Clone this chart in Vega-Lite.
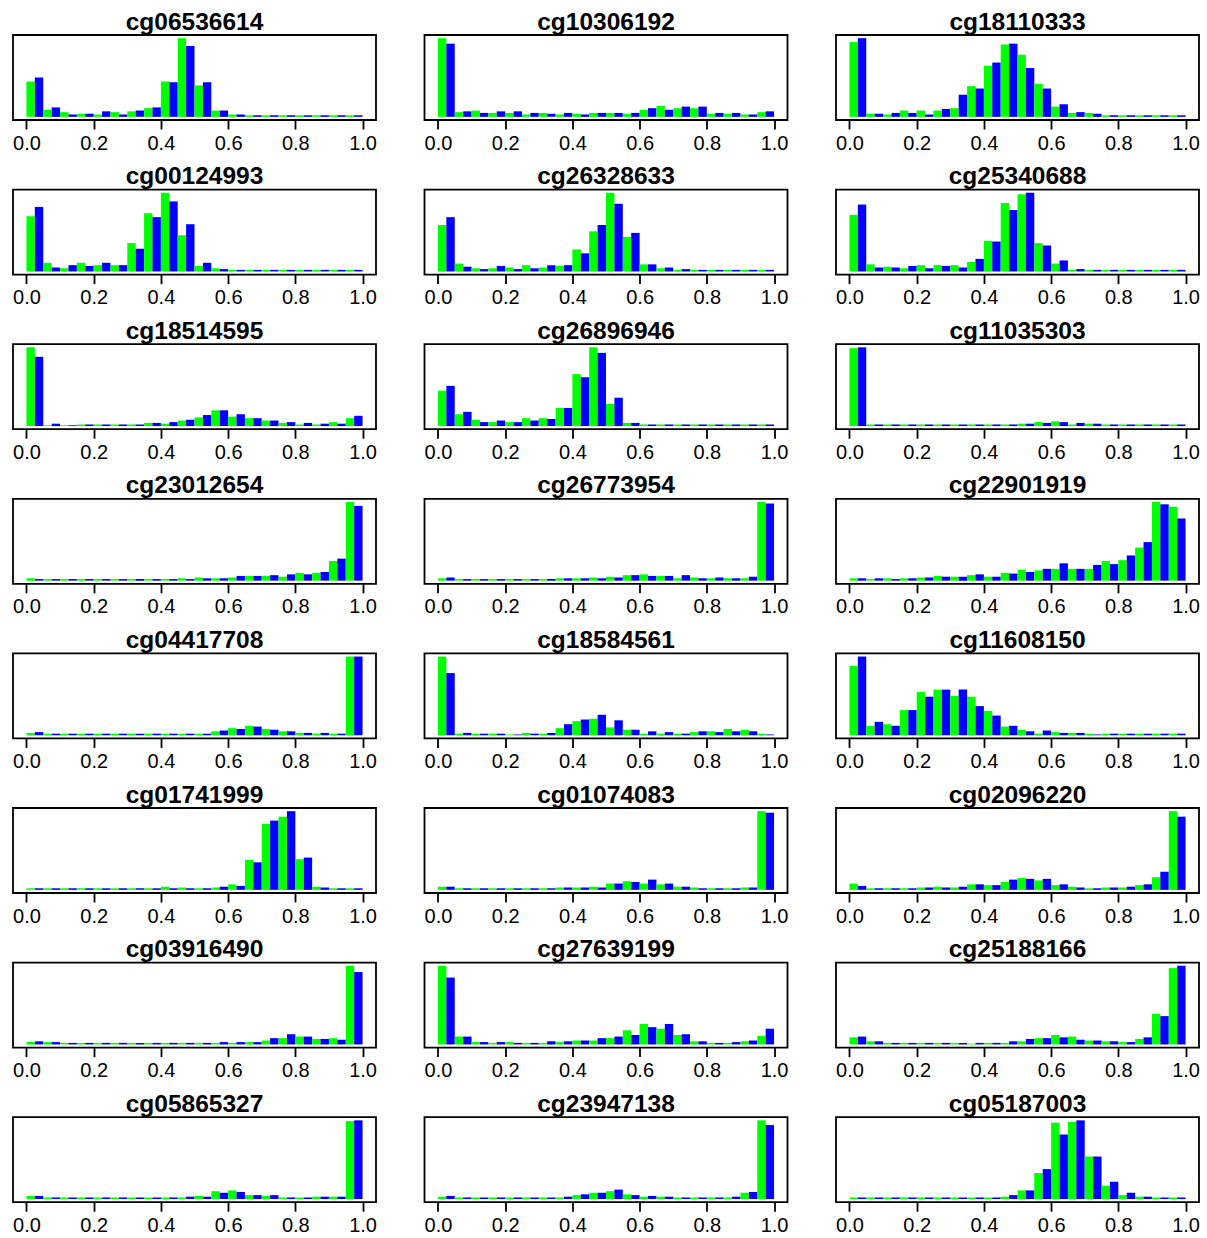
{
"$schema": "https://vega.github.io/schema/vega-lite/v6.json",
"background": "white",
"padding": {"left": 11, "top": 8, "right": 5, "bottom": 0},
"data": {"values": [
{"probe":"cg06536614","bin":0,"green":0.45,"blue":0.5},{"probe":"cg06536614","bin":0.05,"green":0.09,"blue":0.12},{"probe":"cg06536614","bin":0.1,"green":0.06,"blue":0.03},{"probe":"cg06536614","bin":0.15,"green":0.04,"blue":0.04},{"probe":"cg06536614","bin":0.2,"green":0.03,"blue":0.07},{"probe":"cg06536614","bin":0.25,"green":0.06,"blue":0.03},{"probe":"cg06536614","bin":0.3,"green":0.07,"blue":0.08},{"probe":"cg06536614","bin":0.35,"green":0.11,"blue":0.12},{"probe":"cg06536614","bin":0.4,"green":0.45,"blue":0.44},{"probe":"cg06536614","bin":0.45,"green":1.0,"blue":0.9},{"probe":"cg06536614","bin":0.5,"green":0.4,"blue":0.44},{"probe":"cg06536614","bin":0.55,"green":0.08,"blue":0.08},{"probe":"cg06536614","bin":0.6,"green":0.03,"blue":0.03},{"probe":"cg06536614","bin":0.65,"green":0.02,"blue":0.02},{"probe":"cg06536614","bin":0.7,"green":0.02,"blue":0.02},{"probe":"cg06536614","bin":0.75,"green":0.02,"blue":0.02},{"probe":"cg06536614","bin":0.8,"green":0.02,"blue":0.02},{"probe":"cg06536614","bin":0.85,"green":0.02,"blue":0.02},{"probe":"cg06536614","bin":0.9,"green":0.02,"blue":0.02},{"probe":"cg06536614","bin":0.95,"green":0.02,"blue":0.02},
{"probe":"cg10306192","bin":0,"green":1.0,"blue":0.93},{"probe":"cg10306192","bin":0.05,"green":0.06,"blue":0.07},{"probe":"cg10306192","bin":0.1,"green":0.08,"blue":0.05},{"probe":"cg10306192","bin":0.15,"green":0.05,"blue":0.07},{"probe":"cg10306192","bin":0.2,"green":0.05,"blue":0.07},{"probe":"cg10306192","bin":0.25,"green":0.03,"blue":0.05},{"probe":"cg10306192","bin":0.3,"green":0.05,"blue":0.04},{"probe":"cg10306192","bin":0.35,"green":0.03,"blue":0.05},{"probe":"cg10306192","bin":0.4,"green":0.04,"blue":0.03},{"probe":"cg10306192","bin":0.45,"green":0.05,"blue":0.05},{"probe":"cg10306192","bin":0.5,"green":0.05,"blue":0.05},{"probe":"cg10306192","bin":0.55,"green":0.04,"blue":0.05},{"probe":"cg10306192","bin":0.6,"green":0.09,"blue":0.11},{"probe":"cg10306192","bin":0.65,"green":0.14,"blue":0.09},{"probe":"cg10306192","bin":0.7,"green":0.11,"blue":0.13},{"probe":"cg10306192","bin":0.75,"green":0.11,"blue":0.13},{"probe":"cg10306192","bin":0.8,"green":0.04,"blue":0.05},{"probe":"cg10306192","bin":0.85,"green":0.04,"blue":0.05},{"probe":"cg10306192","bin":0.9,"green":0.03,"blue":0.03},{"probe":"cg10306192","bin":0.95,"green":0.06,"blue":0.07},
{"probe":"cg18110333","bin":0,"green":0.95,"blue":1.0},{"probe":"cg18110333","bin":0.05,"green":0.04,"blue":0.04},{"probe":"cg18110333","bin":0.1,"green":0.03,"blue":0.05},{"probe":"cg18110333","bin":0.15,"green":0.08,"blue":0.05},{"probe":"cg18110333","bin":0.2,"green":0.08,"blue":0.03},{"probe":"cg18110333","bin":0.25,"green":0.08,"blue":0.1},{"probe":"cg18110333","bin":0.3,"green":0.11,"blue":0.28},{"probe":"cg18110333","bin":0.35,"green":0.39,"blue":0.36},{"probe":"cg18110333","bin":0.4,"green":0.65,"blue":0.69},{"probe":"cg18110333","bin":0.45,"green":0.92,"blue":0.93},{"probe":"cg18110333","bin":0.5,"green":0.79,"blue":0.62},{"probe":"cg18110333","bin":0.55,"green":0.42,"blue":0.36},{"probe":"cg18110333","bin":0.6,"green":0.13,"blue":0.16},{"probe":"cg18110333","bin":0.65,"green":0.05,"blue":0.06},{"probe":"cg18110333","bin":0.7,"green":0.05,"blue":0.04},{"probe":"cg18110333","bin":0.75,"green":0.02,"blue":0.02},{"probe":"cg18110333","bin":0.8,"green":0.02,"blue":0.02},{"probe":"cg18110333","bin":0.85,"green":0.02,"blue":0.02},{"probe":"cg18110333","bin":0.9,"green":0.02,"blue":0.02},{"probe":"cg18110333","bin":0.95,"green":0.02,"blue":0.02},
{"probe":"cg00124993","bin":0,"green":0.7,"blue":0.82},{"probe":"cg00124993","bin":0.05,"green":0.11,"blue":0.05},{"probe":"cg00124993","bin":0.1,"green":0.04,"blue":0.08},{"probe":"cg00124993","bin":0.15,"green":0.11,"blue":0.07},{"probe":"cg00124993","bin":0.2,"green":0.08,"blue":0.11},{"probe":"cg00124993","bin":0.25,"green":0.08,"blue":0.08},{"probe":"cg00124993","bin":0.3,"green":0.36,"blue":0.29},{"probe":"cg00124993","bin":0.35,"green":0.74,"blue":0.69},{"probe":"cg00124993","bin":0.4,"green":1.0,"blue":0.89},{"probe":"cg00124993","bin":0.45,"green":0.46,"blue":0.6},{"probe":"cg00124993","bin":0.5,"green":0.07,"blue":0.11},{"probe":"cg00124993","bin":0.55,"green":0.04,"blue":0.03},{"probe":"cg00124993","bin":0.6,"green":0.02,"blue":0.02},{"probe":"cg00124993","bin":0.65,"green":0.02,"blue":0.02},{"probe":"cg00124993","bin":0.7,"green":0.02,"blue":0.02},{"probe":"cg00124993","bin":0.75,"green":0.02,"blue":0.02},{"probe":"cg00124993","bin":0.8,"green":0.02,"blue":0.02},{"probe":"cg00124993","bin":0.85,"green":0.02,"blue":0.02},{"probe":"cg00124993","bin":0.9,"green":0.02,"blue":0.02},{"probe":"cg00124993","bin":0.95,"green":0.02,"blue":0.02},
{"probe":"cg26328633","bin":0,"green":0.59,"blue":0.69},{"probe":"cg26328633","bin":0.05,"green":0.1,"blue":0.06},{"probe":"cg26328633","bin":0.1,"green":0.04,"blue":0.03},{"probe":"cg26328633","bin":0.15,"green":0.04,"blue":0.07},{"probe":"cg26328633","bin":0.2,"green":0.05,"blue":0.03},{"probe":"cg26328633","bin":0.25,"green":0.08,"blue":0.04},{"probe":"cg26328633","bin":0.3,"green":0.05,"blue":0.08},{"probe":"cg26328633","bin":0.35,"green":0.07,"blue":0.08},{"probe":"cg26328633","bin":0.4,"green":0.28,"blue":0.23},{"probe":"cg26328633","bin":0.45,"green":0.51,"blue":0.59},{"probe":"cg26328633","bin":0.5,"green":1.0,"blue":0.86},{"probe":"cg26328633","bin":0.55,"green":0.44,"blue":0.49},{"probe":"cg26328633","bin":0.6,"green":0.09,"blue":0.09},{"probe":"cg26328633","bin":0.65,"green":0.04,"blue":0.05},{"probe":"cg26328633","bin":0.7,"green":0.02,"blue":0.03},{"probe":"cg26328633","bin":0.75,"green":0.02,"blue":0.02},{"probe":"cg26328633","bin":0.8,"green":0.02,"blue":0.02},{"probe":"cg26328633","bin":0.85,"green":0.02,"blue":0.02},{"probe":"cg26328633","bin":0.9,"green":0.02,"blue":0.02},{"probe":"cg26328633","bin":0.95,"green":0.02,"blue":0.02},
{"probe":"cg25340688","bin":0,"green":0.72,"blue":0.85},{"probe":"cg25340688","bin":0.05,"green":0.09,"blue":0.05},{"probe":"cg25340688","bin":0.1,"green":0.06,"blue":0.05},{"probe":"cg25340688","bin":0.15,"green":0.04,"blue":0.07},{"probe":"cg25340688","bin":0.2,"green":0.08,"blue":0.04},{"probe":"cg25340688","bin":0.25,"green":0.08,"blue":0.07},{"probe":"cg25340688","bin":0.3,"green":0.08,"blue":0.05},{"probe":"cg25340688","bin":0.35,"green":0.12,"blue":0.16},{"probe":"cg25340688","bin":0.4,"green":0.39,"blue":0.38},{"probe":"cg25340688","bin":0.45,"green":0.87,"blue":0.78},{"probe":"cg25340688","bin":0.5,"green":0.98,"blue":1.0},{"probe":"cg25340688","bin":0.55,"green":0.36,"blue":0.33},{"probe":"cg25340688","bin":0.6,"green":0.1,"blue":0.14},{"probe":"cg25340688","bin":0.65,"green":0.02,"blue":0.03},{"probe":"cg25340688","bin":0.7,"green":0.02,"blue":0.02},{"probe":"cg25340688","bin":0.75,"green":0.02,"blue":0.02},{"probe":"cg25340688","bin":0.8,"green":0.02,"blue":0.02},{"probe":"cg25340688","bin":0.85,"green":0.02,"blue":0.02},{"probe":"cg25340688","bin":0.9,"green":0.02,"blue":0.02},{"probe":"cg25340688","bin":0.95,"green":0.02,"blue":0.02},
{"probe":"cg18514595","bin":0,"green":1.0,"blue":0.88},{"probe":"cg18514595","bin":0.05,"green":0.01,"blue":0.03},{"probe":"cg18514595","bin":0.1,"green":0.01,"blue":0.01},{"probe":"cg18514595","bin":0.15,"green":0.02,"blue":0.02},{"probe":"cg18514595","bin":0.2,"green":0.02,"blue":0.02},{"probe":"cg18514595","bin":0.25,"green":0.02,"blue":0.02},{"probe":"cg18514595","bin":0.3,"green":0.02,"blue":0.02},{"probe":"cg18514595","bin":0.35,"green":0.04,"blue":0.04},{"probe":"cg18514595","bin":0.4,"green":0.03,"blue":0.05},{"probe":"cg18514595","bin":0.45,"green":0.07,"blue":0.08},{"probe":"cg18514595","bin":0.5,"green":0.11,"blue":0.14},{"probe":"cg18514595","bin":0.55,"green":0.2,"blue":0.2},{"probe":"cg18514595","bin":0.6,"green":0.12,"blue":0.15},{"probe":"cg18514595","bin":0.65,"green":0.1,"blue":0.1},{"probe":"cg18514595","bin":0.7,"green":0.07,"blue":0.07},{"probe":"cg18514595","bin":0.75,"green":0.04,"blue":0.05},{"probe":"cg18514595","bin":0.8,"green":0.02,"blue":0.04},{"probe":"cg18514595","bin":0.85,"green":0.02,"blue":0.03},{"probe":"cg18514595","bin":0.9,"green":0.05,"blue":0.03},{"probe":"cg18514595","bin":0.95,"green":0.1,"blue":0.13},
{"probe":"cg26896946","bin":0,"green":0.45,"blue":0.51},{"probe":"cg26896946","bin":0.05,"green":0.15,"blue":0.18},{"probe":"cg26896946","bin":0.1,"green":0.08,"blue":0.05},{"probe":"cg26896946","bin":0.15,"green":0.05,"blue":0.07},{"probe":"cg26896946","bin":0.2,"green":0.05,"blue":0.05},{"probe":"cg26896946","bin":0.25,"green":0.1,"blue":0.07},{"probe":"cg26896946","bin":0.3,"green":0.1,"blue":0.09},{"probe":"cg26896946","bin":0.35,"green":0.23,"blue":0.23},{"probe":"cg26896946","bin":0.4,"green":0.66,"blue":0.62},{"probe":"cg26896946","bin":0.45,"green":1.0,"blue":0.93},{"probe":"cg26896946","bin":0.5,"green":0.28,"blue":0.36},{"probe":"cg26896946","bin":0.55,"green":0.04,"blue":0.04},{"probe":"cg26896946","bin":0.6,"green":0.02,"blue":0.02},{"probe":"cg26896946","bin":0.65,"green":0.02,"blue":0.02},{"probe":"cg26896946","bin":0.7,"green":0.02,"blue":0.02},{"probe":"cg26896946","bin":0.75,"green":0.02,"blue":0.02},{"probe":"cg26896946","bin":0.8,"green":0.02,"blue":0.02},{"probe":"cg26896946","bin":0.85,"green":0.02,"blue":0.02},{"probe":"cg26896946","bin":0.9,"green":0.02,"blue":0.02},{"probe":"cg26896946","bin":0.95,"green":0.02,"blue":0.02},
{"probe":"cg11035303","bin":0,"green":0.99,"blue":1.0},{"probe":"cg11035303","bin":0.05,"green":0.02,"blue":0.02},{"probe":"cg11035303","bin":0.1,"green":0.02,"blue":0.02},{"probe":"cg11035303","bin":0.15,"green":0.02,"blue":0.02},{"probe":"cg11035303","bin":0.2,"green":0.02,"blue":0.02},{"probe":"cg11035303","bin":0.25,"green":0.02,"blue":0.02},{"probe":"cg11035303","bin":0.3,"green":0.02,"blue":0.02},{"probe":"cg11035303","bin":0.35,"green":0.02,"blue":0.02},{"probe":"cg11035303","bin":0.4,"green":0.02,"blue":0.02},{"probe":"cg11035303","bin":0.45,"green":0.02,"blue":0.02},{"probe":"cg11035303","bin":0.5,"green":0.03,"blue":0.03},{"probe":"cg11035303","bin":0.55,"green":0.05,"blue":0.04},{"probe":"cg11035303","bin":0.6,"green":0.06,"blue":0.05},{"probe":"cg11035303","bin":0.65,"green":0.02,"blue":0.04},{"probe":"cg11035303","bin":0.7,"green":0.03,"blue":0.03},{"probe":"cg11035303","bin":0.75,"green":0.02,"blue":0.02},{"probe":"cg11035303","bin":0.8,"green":0.02,"blue":0.02},{"probe":"cg11035303","bin":0.85,"green":0.02,"blue":0.02},{"probe":"cg11035303","bin":0.9,"green":0.02,"blue":0.02},{"probe":"cg11035303","bin":0.95,"green":0.02,"blue":0.02},
{"probe":"cg23012654","bin":0,"green":0.03,"blue":0.02},{"probe":"cg23012654","bin":0.05,"green":0.02,"blue":0.02},{"probe":"cg23012654","bin":0.1,"green":0.02,"blue":0.02},{"probe":"cg23012654","bin":0.15,"green":0.02,"blue":0.02},{"probe":"cg23012654","bin":0.2,"green":0.02,"blue":0.02},{"probe":"cg23012654","bin":0.25,"green":0.02,"blue":0.02},{"probe":"cg23012654","bin":0.3,"green":0.02,"blue":0.02},{"probe":"cg23012654","bin":0.35,"green":0.02,"blue":0.02},{"probe":"cg23012654","bin":0.4,"green":0.02,"blue":0.02},{"probe":"cg23012654","bin":0.45,"green":0.03,"blue":0.02},{"probe":"cg23012654","bin":0.5,"green":0.04,"blue":0.03},{"probe":"cg23012654","bin":0.55,"green":0.03,"blue":0.03},{"probe":"cg23012654","bin":0.6,"green":0.04,"blue":0.06},{"probe":"cg23012654","bin":0.65,"green":0.06,"blue":0.06},{"probe":"cg23012654","bin":0.7,"green":0.06,"blue":0.07},{"probe":"cg23012654","bin":0.75,"green":0.05,"blue":0.08},{"probe":"cg23012654","bin":0.8,"green":0.1,"blue":0.08},{"probe":"cg23012654","bin":0.85,"green":0.1,"blue":0.11},{"probe":"cg23012654","bin":0.9,"green":0.25,"blue":0.28},{"probe":"cg23012654","bin":0.95,"green":1.0,"blue":0.95},
{"probe":"cg26773954","bin":0,"green":0.03,"blue":0.04},{"probe":"cg26773954","bin":0.05,"green":0.02,"blue":0.02},{"probe":"cg26773954","bin":0.1,"green":0.02,"blue":0.02},{"probe":"cg26773954","bin":0.15,"green":0.02,"blue":0.02},{"probe":"cg26773954","bin":0.2,"green":0.02,"blue":0.02},{"probe":"cg26773954","bin":0.25,"green":0.02,"blue":0.02},{"probe":"cg26773954","bin":0.3,"green":0.02,"blue":0.02},{"probe":"cg26773954","bin":0.35,"green":0.03,"blue":0.03},{"probe":"cg26773954","bin":0.4,"green":0.03,"blue":0.03},{"probe":"cg26773954","bin":0.45,"green":0.04,"blue":0.03},{"probe":"cg26773954","bin":0.5,"green":0.05,"blue":0.04},{"probe":"cg26773954","bin":0.55,"green":0.07,"blue":0.07},{"probe":"cg26773954","bin":0.6,"green":0.08,"blue":0.06},{"probe":"cg26773954","bin":0.65,"green":0.06,"blue":0.06},{"probe":"cg26773954","bin":0.7,"green":0.03,"blue":0.07},{"probe":"cg26773954","bin":0.75,"green":0.04,"blue":0.03},{"probe":"cg26773954","bin":0.8,"green":0.03,"blue":0.04},{"probe":"cg26773954","bin":0.85,"green":0.03,"blue":0.03},{"probe":"cg26773954","bin":0.9,"green":0.03,"blue":0.05},{"probe":"cg26773954","bin":0.95,"green":1.0,"blue":0.98},
{"probe":"cg22901919","bin":0,"green":0.03,"blue":0.03},{"probe":"cg22901919","bin":0.05,"green":0.02,"blue":0.03},{"probe":"cg22901919","bin":0.1,"green":0.03,"blue":0.02},{"probe":"cg22901919","bin":0.15,"green":0.03,"blue":0.03},{"probe":"cg22901919","bin":0.2,"green":0.04,"blue":0.04},{"probe":"cg22901919","bin":0.25,"green":0.06,"blue":0.05},{"probe":"cg22901919","bin":0.3,"green":0.05,"blue":0.05},{"probe":"cg22901919","bin":0.35,"green":0.07,"blue":0.08},{"probe":"cg22901919","bin":0.4,"green":0.05,"blue":0.05},{"probe":"cg22901919","bin":0.45,"green":0.1,"blue":0.09},{"probe":"cg22901919","bin":0.5,"green":0.14,"blue":0.11},{"probe":"cg22901919","bin":0.55,"green":0.13,"blue":0.15},{"probe":"cg22901919","bin":0.6,"green":0.15,"blue":0.22},{"probe":"cg22901919","bin":0.65,"green":0.15,"blue":0.15},{"probe":"cg22901919","bin":0.7,"green":0.15,"blue":0.2},{"probe":"cg22901919","bin":0.75,"green":0.25,"blue":0.21},{"probe":"cg22901919","bin":0.8,"green":0.26,"blue":0.32},{"probe":"cg22901919","bin":0.85,"green":0.42,"blue":0.49},{"probe":"cg22901919","bin":0.9,"green":1.0,"blue":0.97},{"probe":"cg22901919","bin":0.95,"green":0.94,"blue":0.79},
{"probe":"cg04417708","bin":0,"green":0.03,"blue":0.04},{"probe":"cg04417708","bin":0.05,"green":0.02,"blue":0.02},{"probe":"cg04417708","bin":0.1,"green":0.02,"blue":0.02},{"probe":"cg04417708","bin":0.15,"green":0.02,"blue":0.02},{"probe":"cg04417708","bin":0.2,"green":0.02,"blue":0.02},{"probe":"cg04417708","bin":0.25,"green":0.02,"blue":0.02},{"probe":"cg04417708","bin":0.3,"green":0.02,"blue":0.02},{"probe":"cg04417708","bin":0.35,"green":0.02,"blue":0.02},{"probe":"cg04417708","bin":0.4,"green":0.02,"blue":0.02},{"probe":"cg04417708","bin":0.45,"green":0.02,"blue":0.02},{"probe":"cg04417708","bin":0.5,"green":0.02,"blue":0.02},{"probe":"cg04417708","bin":0.55,"green":0.05,"blue":0.06},{"probe":"cg04417708","bin":0.6,"green":0.09,"blue":0.08},{"probe":"cg04417708","bin":0.65,"green":0.12,"blue":0.11},{"probe":"cg04417708","bin":0.7,"green":0.08,"blue":0.07},{"probe":"cg04417708","bin":0.75,"green":0.05,"blue":0.05},{"probe":"cg04417708","bin":0.8,"green":0.03,"blue":0.03},{"probe":"cg04417708","bin":0.85,"green":0.02,"blue":0.03},{"probe":"cg04417708","bin":0.9,"green":0.02,"blue":0.02},{"probe":"cg04417708","bin":0.95,"green":1.0,"blue":1.0},
{"probe":"cg18584561","bin":0,"green":1.0,"blue":0.79},{"probe":"cg18584561","bin":0.05,"green":0.02,"blue":0.03},{"probe":"cg18584561","bin":0.1,"green":0.02,"blue":0.02},{"probe":"cg18584561","bin":0.15,"green":0.02,"blue":0.02},{"probe":"cg18584561","bin":0.2,"green":0.01,"blue":0.01},{"probe":"cg18584561","bin":0.25,"green":0.03,"blue":0.02},{"probe":"cg18584561","bin":0.3,"green":0.02,"blue":0.03},{"probe":"cg18584561","bin":0.35,"green":0.09,"blue":0.14},{"probe":"cg18584561","bin":0.4,"green":0.18,"blue":0.2},{"probe":"cg18584561","bin":0.45,"green":0.21,"blue":0.26},{"probe":"cg18584561","bin":0.5,"green":0.1,"blue":0.19},{"probe":"cg18584561","bin":0.55,"green":0.07,"blue":0.07},{"probe":"cg18584561","bin":0.6,"green":0.02,"blue":0.05},{"probe":"cg18584561","bin":0.65,"green":0.02,"blue":0.04},{"probe":"cg18584561","bin":0.7,"green":0.02,"blue":0.02},{"probe":"cg18584561","bin":0.75,"green":0.04,"blue":0.05},{"probe":"cg18584561","bin":0.8,"green":0.05,"blue":0.04},{"probe":"cg18584561","bin":0.85,"green":0.08,"blue":0.05},{"probe":"cg18584561","bin":0.9,"green":0.07,"blue":0.05},{"probe":"cg18584561","bin":0.95,"green":0.02,"blue":0.01},
{"probe":"cg11608150","bin":0,"green":0.88,"blue":1.0},{"probe":"cg11608150","bin":0.05,"green":0.12,"blue":0.17},{"probe":"cg11608150","bin":0.1,"green":0.14,"blue":0.12},{"probe":"cg11608150","bin":0.15,"green":0.32,"blue":0.32},{"probe":"cg11608150","bin":0.2,"green":0.55,"blue":0.49},{"probe":"cg11608150","bin":0.25,"green":0.58,"blue":0.58},{"probe":"cg11608150","bin":0.3,"green":0.5,"blue":0.58},{"probe":"cg11608150","bin":0.35,"green":0.49,"blue":0.37},{"probe":"cg11608150","bin":0.4,"green":0.31,"blue":0.25},{"probe":"cg11608150","bin":0.45,"green":0.11,"blue":0.12},{"probe":"cg11608150","bin":0.5,"green":0.07,"blue":0.05},{"probe":"cg11608150","bin":0.55,"green":0.02,"blue":0.06},{"probe":"cg11608150","bin":0.6,"green":0.04,"blue":0.03},{"probe":"cg11608150","bin":0.65,"green":0.03,"blue":0.03},{"probe":"cg11608150","bin":0.7,"green":0.02,"blue":0.01},{"probe":"cg11608150","bin":0.75,"green":0.02,"blue":0.02},{"probe":"cg11608150","bin":0.8,"green":0.02,"blue":0.02},{"probe":"cg11608150","bin":0.85,"green":0.02,"blue":0.02},{"probe":"cg11608150","bin":0.9,"green":0.02,"blue":0.02},{"probe":"cg11608150","bin":0.95,"green":0.02,"blue":0.02},
{"probe":"cg01741999","bin":0,"green":0.02,"blue":0.02},{"probe":"cg01741999","bin":0.05,"green":0.02,"blue":0.02},{"probe":"cg01741999","bin":0.1,"green":0.02,"blue":0.02},{"probe":"cg01741999","bin":0.15,"green":0.02,"blue":0.02},{"probe":"cg01741999","bin":0.2,"green":0.02,"blue":0.02},{"probe":"cg01741999","bin":0.25,"green":0.02,"blue":0.02},{"probe":"cg01741999","bin":0.3,"green":0.02,"blue":0.02},{"probe":"cg01741999","bin":0.35,"green":0.02,"blue":0.02},{"probe":"cg01741999","bin":0.4,"green":0.04,"blue":0.02},{"probe":"cg01741999","bin":0.45,"green":0.03,"blue":0.02},{"probe":"cg01741999","bin":0.5,"green":0.02,"blue":0.02},{"probe":"cg01741999","bin":0.55,"green":0.03,"blue":0.04},{"probe":"cg01741999","bin":0.6,"green":0.07,"blue":0.05},{"probe":"cg01741999","bin":0.65,"green":0.38,"blue":0.35},{"probe":"cg01741999","bin":0.7,"green":0.84,"blue":0.88},{"probe":"cg01741999","bin":0.75,"green":0.93,"blue":1.0},{"probe":"cg01741999","bin":0.8,"green":0.39,"blue":0.41},{"probe":"cg01741999","bin":0.85,"green":0.04,"blue":0.03},{"probe":"cg01741999","bin":0.9,"green":0.02,"blue":0.02},{"probe":"cg01741999","bin":0.95,"green":0.02,"blue":0.02},
{"probe":"cg01074083","bin":0,"green":0.04,"blue":0.04},{"probe":"cg01074083","bin":0.05,"green":0.02,"blue":0.02},{"probe":"cg01074083","bin":0.1,"green":0.02,"blue":0.02},{"probe":"cg01074083","bin":0.15,"green":0.02,"blue":0.02},{"probe":"cg01074083","bin":0.2,"green":0.02,"blue":0.02},{"probe":"cg01074083","bin":0.25,"green":0.02,"blue":0.02},{"probe":"cg01074083","bin":0.3,"green":0.02,"blue":0.02},{"probe":"cg01074083","bin":0.35,"green":0.03,"blue":0.03},{"probe":"cg01074083","bin":0.4,"green":0.03,"blue":0.03},{"probe":"cg01074083","bin":0.45,"green":0.04,"blue":0.03},{"probe":"cg01074083","bin":0.5,"green":0.08,"blue":0.08},{"probe":"cg01074083","bin":0.55,"green":0.11,"blue":0.1},{"probe":"cg01074083","bin":0.6,"green":0.08,"blue":0.13},{"probe":"cg01074083","bin":0.65,"green":0.07,"blue":0.08},{"probe":"cg01074083","bin":0.7,"green":0.04,"blue":0.04},{"probe":"cg01074083","bin":0.75,"green":0.03,"blue":0.02},{"probe":"cg01074083","bin":0.8,"green":0.02,"blue":0.02},{"probe":"cg01074083","bin":0.85,"green":0.02,"blue":0.02},{"probe":"cg01074083","bin":0.9,"green":0.03,"blue":0.03},{"probe":"cg01074083","bin":0.95,"green":1.0,"blue":0.98},
{"probe":"cg02096220","bin":0,"green":0.08,"blue":0.05},{"probe":"cg02096220","bin":0.05,"green":0.02,"blue":0.02},{"probe":"cg02096220","bin":0.1,"green":0.02,"blue":0.02},{"probe":"cg02096220","bin":0.15,"green":0.02,"blue":0.02},{"probe":"cg02096220","bin":0.2,"green":0.03,"blue":0.03},{"probe":"cg02096220","bin":0.25,"green":0.04,"blue":0.03},{"probe":"cg02096220","bin":0.3,"green":0.03,"blue":0.04},{"probe":"cg02096220","bin":0.35,"green":0.07,"blue":0.07},{"probe":"cg02096220","bin":0.4,"green":0.06,"blue":0.06},{"probe":"cg02096220","bin":0.45,"green":0.1,"blue":0.13},{"probe":"cg02096220","bin":0.5,"green":0.15,"blue":0.14},{"probe":"cg02096220","bin":0.55,"green":0.12,"blue":0.14},{"probe":"cg02096220","bin":0.6,"green":0.06,"blue":0.07},{"probe":"cg02096220","bin":0.65,"green":0.04,"blue":0.03},{"probe":"cg02096220","bin":0.7,"green":0.02,"blue":0.02},{"probe":"cg02096220","bin":0.75,"green":0.03,"blue":0.03},{"probe":"cg02096220","bin":0.8,"green":0.03,"blue":0.04},{"probe":"cg02096220","bin":0.85,"green":0.06,"blue":0.07},{"probe":"cg02096220","bin":0.9,"green":0.16,"blue":0.23},{"probe":"cg02096220","bin":0.95,"green":1.0,"blue":0.93},
{"probe":"cg03916490","bin":0,"green":0.03,"blue":0.04},{"probe":"cg03916490","bin":0.05,"green":0.03,"blue":0.03},{"probe":"cg03916490","bin":0.1,"green":0.02,"blue":0.02},{"probe":"cg03916490","bin":0.15,"green":0.02,"blue":0.02},{"probe":"cg03916490","bin":0.2,"green":0.02,"blue":0.02},{"probe":"cg03916490","bin":0.25,"green":0.02,"blue":0.02},{"probe":"cg03916490","bin":0.3,"green":0.02,"blue":0.02},{"probe":"cg03916490","bin":0.35,"green":0.02,"blue":0.02},{"probe":"cg03916490","bin":0.4,"green":0.02,"blue":0.02},{"probe":"cg03916490","bin":0.45,"green":0.02,"blue":0.02},{"probe":"cg03916490","bin":0.5,"green":0.02,"blue":0.02},{"probe":"cg03916490","bin":0.55,"green":0.02,"blue":0.03},{"probe":"cg03916490","bin":0.6,"green":0.02,"blue":0.03},{"probe":"cg03916490","bin":0.65,"green":0.03,"blue":0.03},{"probe":"cg03916490","bin":0.7,"green":0.05,"blue":0.08},{"probe":"cg03916490","bin":0.75,"green":0.08,"blue":0.13},{"probe":"cg03916490","bin":0.8,"green":0.1,"blue":0.1},{"probe":"cg03916490","bin":0.85,"green":0.07,"blue":0.07},{"probe":"cg03916490","bin":0.9,"green":0.08,"blue":0.06},{"probe":"cg03916490","bin":0.95,"green":1.0,"blue":0.92},
{"probe":"cg27639199","bin":0,"green":1.0,"blue":0.85},{"probe":"cg27639199","bin":0.05,"green":0.1,"blue":0.1},{"probe":"cg27639199","bin":0.1,"green":0.03,"blue":0.03},{"probe":"cg27639199","bin":0.15,"green":0.02,"blue":0.03},{"probe":"cg27639199","bin":0.2,"green":0.03,"blue":0.02},{"probe":"cg27639199","bin":0.25,"green":0.02,"blue":0.02},{"probe":"cg27639199","bin":0.3,"green":0.02,"blue":0.04},{"probe":"cg27639199","bin":0.35,"green":0.03,"blue":0.04},{"probe":"cg27639199","bin":0.4,"green":0.05,"blue":0.05},{"probe":"cg27639199","bin":0.45,"green":0.05,"blue":0.08},{"probe":"cg27639199","bin":0.5,"green":0.08,"blue":0.1},{"probe":"cg27639199","bin":0.55,"green":0.18,"blue":0.12},{"probe":"cg27639199","bin":0.6,"green":0.26,"blue":0.22},{"probe":"cg27639199","bin":0.65,"green":0.2,"blue":0.26},{"probe":"cg27639199","bin":0.7,"green":0.12,"blue":0.13},{"probe":"cg27639199","bin":0.75,"green":0.04,"blue":0.04},{"probe":"cg27639199","bin":0.8,"green":0.02,"blue":0.02},{"probe":"cg27639199","bin":0.85,"green":0.02,"blue":0.03},{"probe":"cg27639199","bin":0.9,"green":0.04,"blue":0.05},{"probe":"cg27639199","bin":0.95,"green":0.11,"blue":0.2},
{"probe":"cg25188166","bin":0,"green":0.09,"blue":0.1},{"probe":"cg25188166","bin":0.05,"green":0.04,"blue":0.04},{"probe":"cg25188166","bin":0.1,"green":0.02,"blue":0.02},{"probe":"cg25188166","bin":0.15,"green":0.02,"blue":0.02},{"probe":"cg25188166","bin":0.2,"green":0.02,"blue":0.02},{"probe":"cg25188166","bin":0.25,"green":0.02,"blue":0.02},{"probe":"cg25188166","bin":0.3,"green":0.02,"blue":0.02},{"probe":"cg25188166","bin":0.35,"green":0.01,"blue":0.02},{"probe":"cg25188166","bin":0.4,"green":0.02,"blue":0.02},{"probe":"cg25188166","bin":0.45,"green":0.02,"blue":0.04},{"probe":"cg25188166","bin":0.5,"green":0.04,"blue":0.07},{"probe":"cg25188166","bin":0.55,"green":0.08,"blue":0.08},{"probe":"cg25188166","bin":0.6,"green":0.12,"blue":0.09},{"probe":"cg25188166","bin":0.65,"green":0.1,"blue":0.06},{"probe":"cg25188166","bin":0.7,"green":0.05,"blue":0.05},{"probe":"cg25188166","bin":0.75,"green":0.04,"blue":0.04},{"probe":"cg25188166","bin":0.8,"green":0.03,"blue":0.03},{"probe":"cg25188166","bin":0.85,"green":0.07,"blue":0.09},{"probe":"cg25188166","bin":0.9,"green":0.39,"blue":0.36},{"probe":"cg25188166","bin":0.95,"green":0.97,"blue":1.0},
{"probe":"cg05865327","bin":0,"green":0.04,"blue":0.04},{"probe":"cg05865327","bin":0.05,"green":0.02,"blue":0.02},{"probe":"cg05865327","bin":0.1,"green":0.02,"blue":0.02},{"probe":"cg05865327","bin":0.15,"green":0.02,"blue":0.02},{"probe":"cg05865327","bin":0.2,"green":0.02,"blue":0.02},{"probe":"cg05865327","bin":0.25,"green":0.02,"blue":0.02},{"probe":"cg05865327","bin":0.3,"green":0.02,"blue":0.02},{"probe":"cg05865327","bin":0.35,"green":0.02,"blue":0.02},{"probe":"cg05865327","bin":0.4,"green":0.02,"blue":0.02},{"probe":"cg05865327","bin":0.45,"green":0.02,"blue":0.03},{"probe":"cg05865327","bin":0.5,"green":0.04,"blue":0.03},{"probe":"cg05865327","bin":0.55,"green":0.1,"blue":0.08},{"probe":"cg05865327","bin":0.6,"green":0.11,"blue":0.09},{"probe":"cg05865327","bin":0.65,"green":0.05,"blue":0.05},{"probe":"cg05865327","bin":0.7,"green":0.04,"blue":0.05},{"probe":"cg05865327","bin":0.75,"green":0.02,"blue":0.02},{"probe":"cg05865327","bin":0.8,"green":0.02,"blue":0.02},{"probe":"cg05865327","bin":0.85,"green":0.03,"blue":0.03},{"probe":"cg05865327","bin":0.9,"green":0.03,"blue":0.03},{"probe":"cg05865327","bin":0.95,"green":0.99,"blue":1.0},
{"probe":"cg23947138","bin":0,"green":0.03,"blue":0.04},{"probe":"cg23947138","bin":0.05,"green":0.02,"blue":0.02},{"probe":"cg23947138","bin":0.1,"green":0.02,"blue":0.02},{"probe":"cg23947138","bin":0.15,"green":0.02,"blue":0.02},{"probe":"cg23947138","bin":0.2,"green":0.02,"blue":0.02},{"probe":"cg23947138","bin":0.25,"green":0.02,"blue":0.02},{"probe":"cg23947138","bin":0.3,"green":0.02,"blue":0.02},{"probe":"cg23947138","bin":0.35,"green":0.02,"blue":0.03},{"probe":"cg23947138","bin":0.4,"green":0.05,"blue":0.06},{"probe":"cg23947138","bin":0.45,"green":0.08,"blue":0.08},{"probe":"cg23947138","bin":0.5,"green":0.1,"blue":0.12},{"probe":"cg23947138","bin":0.55,"green":0.06,"blue":0.05},{"probe":"cg23947138","bin":0.6,"green":0.03,"blue":0.04},{"probe":"cg23947138","bin":0.65,"green":0.03,"blue":0.03},{"probe":"cg23947138","bin":0.7,"green":0.02,"blue":0.02},{"probe":"cg23947138","bin":0.75,"green":0.02,"blue":0.02},{"probe":"cg23947138","bin":0.8,"green":0.02,"blue":0.02},{"probe":"cg23947138","bin":0.85,"green":0.02,"blue":0.03},{"probe":"cg23947138","bin":0.9,"green":0.08,"blue":0.09},{"probe":"cg23947138","bin":0.95,"green":1.0,"blue":0.94},
{"probe":"cg05187003","bin":0,"green":0.02,"blue":0.02},{"probe":"cg05187003","bin":0.05,"green":0.02,"blue":0.02},{"probe":"cg05187003","bin":0.1,"green":0.02,"blue":0.02},{"probe":"cg05187003","bin":0.15,"green":0.02,"blue":0.02},{"probe":"cg05187003","bin":0.2,"green":0.02,"blue":0.02},{"probe":"cg05187003","bin":0.25,"green":0.02,"blue":0.02},{"probe":"cg05187003","bin":0.3,"green":0.02,"blue":0.02},{"probe":"cg05187003","bin":0.35,"green":0.02,"blue":0.02},{"probe":"cg05187003","bin":0.4,"green":0.02,"blue":0.02},{"probe":"cg05187003","bin":0.45,"green":0.03,"blue":0.05},{"probe":"cg05187003","bin":0.5,"green":0.11,"blue":0.11},{"probe":"cg05187003","bin":0.55,"green":0.33,"blue":0.38},{"probe":"cg05187003","bin":0.6,"green":0.97,"blue":0.82},{"probe":"cg05187003","bin":0.65,"green":0.98,"blue":1.0},{"probe":"cg05187003","bin":0.7,"green":0.54,"blue":0.54},{"probe":"cg05187003","bin":0.75,"green":0.17,"blue":0.22},{"probe":"cg05187003","bin":0.8,"green":0.05,"blue":0.08},{"probe":"cg05187003","bin":0.85,"green":0.03,"blue":0.03},{"probe":"cg05187003","bin":0.9,"green":0.02,"blue":0.02},{"probe":"cg05187003","bin":0.95,"green":0.02,"blue":0.02}
]},
"transform": [{"fold": ["green", "blue"], "as": ["group", "h"]}],
"facet": {"field": "probe", "type": "nominal",
  "sort": ["cg06536614","cg10306192","cg18110333","cg00124993","cg26328633","cg25340688","cg18514595","cg26896946","cg11035303","cg23012654","cg26773954","cg22901919","cg04417708","cg18584561","cg11608150","cg01741999","cg01074083","cg02096220","cg03916490","cg27639199","cg25188166","cg05865327","cg23947138","cg05187003"],
  "header": {"title": null, "labelFontSize": 24.5, "labelFontWeight": "bold", "labelFont": "Liberation Sans", "labelColor": "black", "labelPadding": 0}},
"columns": 3,
"spacing": {"row": 8.6, "column": 44.5},
"resolve": {"scale": {"x": "independent", "xOffset": "independent"}, "axis": {"x": "independent"}},
"spec": {
  "width": 363, "height": 85,
  "layer": [
    {"mark": {"type": "bar"},
     "encoding": {
       "x": {"field": "bin", "type": "ordinal", "axis": null, "scale": {"paddingInner": 0, "paddingOuter": 0.8}},
       "xOffset": {"field": "group", "type": "nominal", "sort": ["green", "blue"], "scale": {"paddingInner": 0, "paddingOuter": 0}},
       "y": {"field": "h", "type": "quantitative", "axis": null, "scale": {"domain": [-0.04, 1.04], "nice": false}},
       "color": {"field": "group", "type": "nominal", "scale": {"domain": ["green", "blue"], "range": ["#00ff00", "#0000ff"]}, "legend": null}
     }},
    {"mark": {"type": "point", "opacity": 0},
     "encoding": {
       "x": {"field": "bin", "type": "quantitative", "scale": {"domain": [-0.04, 1.04], "nice": false, "zero": false},
         "axis": {"values": [0, 0.2, 0.4, 0.6, 0.8, 1], "format": ".1f", "domain": false, "grid": false, "title": null, "ticks": true, "tickSize": 9, "tickWidth": 1.8, "tickColor": "black", "labelFontSize": 20, "labelFont": "Liberation Sans", "labelColor": "black", "labelPadding": 4, "labelFlush": false, "labelOverlap": false}}
     }}
  ],
  "resolve": {"scale": {"x": "independent"}, "axis": {"x": "independent"}}
},
"config": {"view": {"stroke": "black", "strokeWidth": 1.8}}
}
